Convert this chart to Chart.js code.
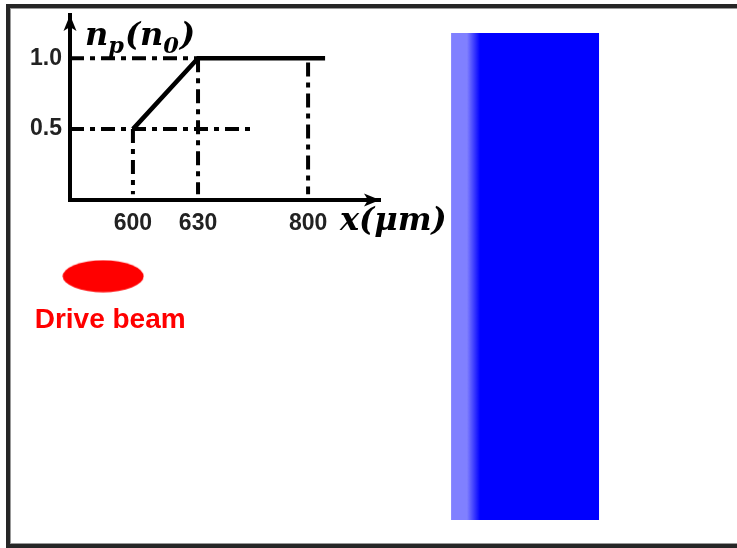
<!DOCTYPE html>
<html>
<head>
<meta charset="utf-8">
<script src="https://cdn.jsdelivr.net/npm/chart.js@4.4.1/dist/chart.umd.min.js"></script>
<style>
  html, body { margin: 0; padding: 0; background: #fff; overflow: hidden; }
  #wrap { position: relative; width: 737px; height: 548px; }
  #frame { position: absolute; left: 6px; top: 4px; width: 800px; height: 536px;
           border: 4px solid #262626; box-shadow: inset 0 0 0 1px #999; }
  canvas { position: absolute; left: 0; top: 0; }
</style>
</head>
<body>
<div id="wrap">
  <div id="frame"></div>
  <canvas id="bg" width="737" height="548"></canvas>
  <canvas id="inset" width="737" height="548"></canvas>
</div>
<script>
// inset profile n_p(x), x in um, n_p in units of n0
const profileX = [600, 630, 826];
const profileY = [0.5, 1.0, 1.0];
const xTicks = [600, 630, 800];
const yTicks = [0.5, 1.0];
const guideEnd05 = 715;   // where the 0.5 guide stops

// sketch: plasma slab and drive beam, in box units (0-100)
const slabX = [61.2, 81.3];
const slabY = [6.0, 94.9];
const beamPos = [14.0, 50.4];

// the inset axis is a schematic, not to scale: piecewise linear
const knots = [500, 600, 630, 800, 910];
const fracs = [0, 0.203, 0.413, 0.768, 1];

class PiecewiseScale extends Chart.LinearScale {
  static id = 'piecewise';
  static defaults = Chart.LinearScale.defaults;
  toFrac(v) {
    for (let i = 1; i < knots.length; i++) {
      if (v <= knots[i] || i === knots.length - 1) {
        const t = (v - knots[i - 1]) / (knots[i] - knots[i - 1]);
        return fracs[i - 1] + t * (fracs[i] - fracs[i - 1]);
      }
    }
  }
  getPixelForValue(v) { return this.getPixelForDecimal(this.toFrac(v)); }
  getValueForPixel(p) {
    const f = this.getDecimalForPixel(p);
    for (let i = 1; i < fracs.length; i++) {
      if (f <= fracs[i] || i === fracs.length - 1) {
        const t = (f - fracs[i - 1]) / (fracs[i] - fracs[i - 1]);
        return knots[i - 1] + t * (knots[i] - knots[i - 1]);
      }
    }
  }
}
Chart.register(PiecewiseScale);

// ---- background sketch ----
const ell = document.createElement('canvas');
ell.width = 82; ell.height = 33;
const ec = ell.getContext('2d');
ec.fillStyle = '#ff0000';
ec.beginPath();
ec.ellipse(41, 16.5, 40.5, 16, 0, 0, Math.PI * 2);
ec.fill();

function slabFill(ctx) {
  const chart = ctx.chart;
  if (!chart.chartArea || !chart.scales.x) return '#0000ff';
  const x0 = chart.scales.x.getPixelForValue(slabX[0]);
  if (!isFinite(x0)) return '#0000ff';
  const g = chart.ctx.createLinearGradient(x0, 0, x0 + 30, 0);
  g.addColorStop(0, '#8080ff');
  g.addColorStop(0.53, '#8080ff');
  g.addColorStop(0.97, '#0000ff');
  g.addColorStop(1, '#0000ff');
  return g;
}

new Chart(document.getElementById('bg'), {
  type: 'scatter',
  data: {
    datasets: [{
      label: 'plasma',
      data: [{x: slabX[0], y: slabY[0]}, {x: slabX[1], y: slabY[0]}],
      showLine: true,
      borderWidth: 0,
      pointRadius: 0,
      fill: {value: slabY[1]},
      backgroundColor: slabFill
    }, {
      label: 'Drive beam',
      data: [{x: beamPos[0], y: beamPos[1]}],
      pointStyle: ell
    }]
  },
  options: {
    responsive: false,
    animation: false,
    layout: { padding: 0, autoPadding: false },
    plugins: { legend: { display: false }, tooltip: { enabled: false } },
    scales: {
      x: { display: false, min: 0, max: 100 },
      y: { display: false, min: 0, max: 100, reverse: true }
    }
  },
  plugins: [{
    id: 'beamLabel',
    afterDatasetsDraw(chart) {
      const p = chart.getDatasetMeta(1).data[0];
      const c = chart.ctx;
      c.save();
      c.fillStyle = '#ff0000';
      c.font = 'bold 28px "Liberation Sans", Arial, sans-serif';
      c.textAlign = 'center';
      c.textBaseline = 'alphabetic';
      c.fillText('Drive beam', p.x + 7, p.y + 52);
      c.restore();
    }
  }]
});

// ---- inset profile ----
const dashDot = [14, 6, 5, 6];
function guide(pts) {
  return {
    data: pts, showLine: true, pointRadius: 0,
    borderColor: '#000', borderWidth: 4, borderDash: dashDot, borderCapStyle: 'butt'
  };
}

function drawMath(c, parts, x, y, size) {
  parts.forEach(p => {
    const s = p.sub ? size * 0.7 : size;
    c.font = 'bold italic ' + s + 'px "DejaVu Serif", serif';
    c.fillText(p.t, x, p.sub ? y + size * 0.25 : y);
    x += c.measureText(p.t).width + (p.sub ? 1 : 0);
  });
}

const tickFont = { family: '"Liberation Sans", Arial, sans-serif', size: 23, weight: 'bold' };

new Chart(document.getElementById('inset'), {
  type: 'scatter',
  data: {
    datasets: [
      {
        label: 'n_p',
        data: profileX.map((x, i) => ({x, y: profileY[i]})),
        showLine: true, pointRadius: 0,
        borderColor: '#000', borderWidth: 4.5, borderCapStyle: 'butt'
      },
      guide([{x: knots[0], y: 1.0}, {x: 630, y: 1.0}]),
      guide([{x: knots[0], y: 0.5}, {x: guideEnd05, y: 0.5}]),
      guide([{x: 600, y: 0.5}, {x: 600, y: 0.04}]),
      guide([{x: 630, y: 1.0}, {x: 630, y: 0.04}]),
      guide([{x: 800, y: 0.97}, {x: 800, y: 0.04}])
    ]
  },
  options: {
    responsive: false,
    animation: false,
    layout: { padding: { left: 0, top: 15, right: 357, bottom: 0 }, autoPadding: false },
    plugins: { legend: { display: false }, tooltip: { enabled: false } },
    scales: {
      x: {
        type: 'piecewise', min: knots[0], max: knots[knots.length - 1],
        afterFit: s => { s.height = 348; s.paddingLeft = 0; s.paddingRight = 0; },
        afterBuildTicks: s => { s.ticks = xTicks.map(v => ({value: v})); },
        grid: { display: false, drawTicks: false },
        border: { display: true, color: '#000', width: 4 },
        ticks: {
          padding: 10, color: '#222', maxRotation: 0, autoSkip: false,
          font: tickFont,
          callback: v => String(v)
        }
      },
      y: {
        min: 0, max: 1.305,
        afterFit: s => { s.width = 70; s.paddingTop = 0; s.paddingBottom = 0; },
        afterBuildTicks: s => { s.ticks = yTicks.map(v => ({value: v})); },
        grid: { display: false, drawTicks: false },
        border: { display: true, color: '#000', width: 4 },
        ticks: {
          padding: 8, color: '#222',
          font: tickFont,
          callback: v => Number(v).toFixed(1)
        }
      }
    }
  },
  plugins: [{
    id: 'arrowsAndTitles',
    afterDraw(chart) {
      const c = chart.ctx;
      const a = chart.chartArea;
      c.save();
      c.fillStyle = '#000';
      // y arrow
      const ax = a.left;
      c.beginPath();
      c.moveTo(ax, a.top);
      c.lineTo(ax + 6.5, a.top + 16);
      c.lineTo(ax, a.top + 12);
      c.lineTo(ax - 6.5, a.top + 16);
      c.closePath();
      c.fill();
      // x arrow
      const ay = a.bottom;
      c.beginPath();
      c.moveTo(a.right, ay);
      c.lineTo(a.right - 16, ay - 6.5);
      c.lineTo(a.right - 12, ay);
      c.lineTo(a.right - 16, ay + 6.5);
      c.closePath();
      c.fill();
      // axis titles
      c.textAlign = 'left';
      c.textBaseline = 'alphabetic';
      drawMath(c, [{t: 'n'}, {t: 'p', sub: true}, {t: '('}, {t: 'n'}, {t: '0', sub: true}, {t: ')'}],
               a.left + 15, a.top + 30, 32);
      drawMath(c, [{t: 'x'}, {t: '('}, {t: 'μ'}, {t: 'm'}, {t: ')'}],
               a.right - 40, a.bottom + 30, 32);
      c.restore();
    }
  }]
});
</script>
</body>
</html>
